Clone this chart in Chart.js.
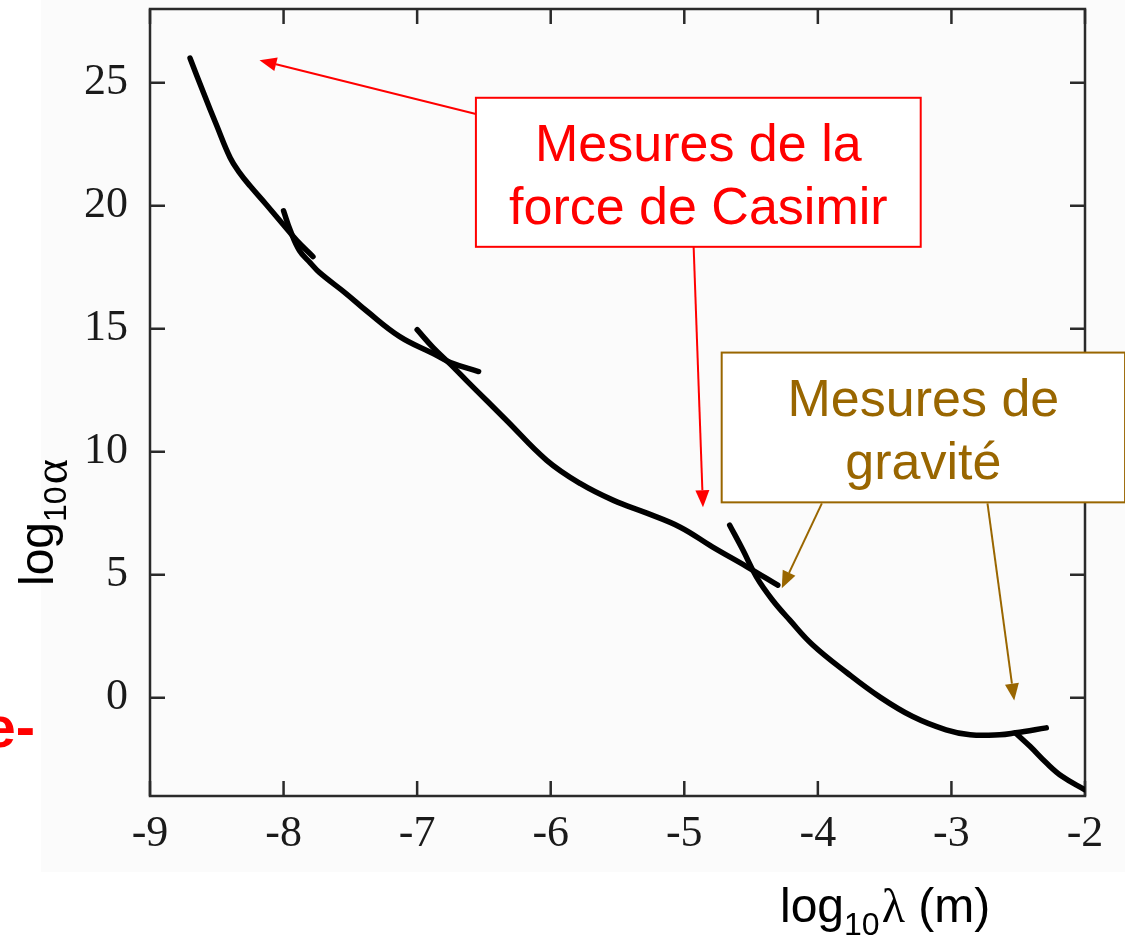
<!DOCTYPE html>
<html>
<head>
<meta charset="utf-8">
<script src="https://cdn.jsdelivr.net/npm/chart.js@4.4.1/dist/chart.umd.min.js"></script>
<style>
  html, body { margin: 0; padding: 0; background: #fff; }
  #wrap { width: 1125px; height: 935px; }
</style>
</head>
<body>
<div id="wrap"><canvas id="chart" width="1125" height="935"></canvas></div>
<script>
// Exclusion curves: log10(lambda) vs log10(alpha)

var xTicks = [-9, -8, -7, -6, -5, -4, -3, -2];
var yTicks = [0, 5, 10, 15, 20, 25];

// curve pieces
var seg1X = [-8.70, -8.60, -8.50, -8.40, -8.33, -8.25, -8.13, -8.00, -7.90, -7.78];
var seg1Y = [26.0, 24.6, 23.25, 21.95, 21.35, 20.8, 20.05, 19.22, 18.58, 17.93];

var seg2X = [-8.00, -7.95, -7.88, -7.80, -7.73, -7.53, -7.38, -7.13, -6.88, -6.75, -6.54];
var seg2Y = [19.79, 19.0, 18.17, 17.68, 17.28, 16.42, 15.73, 14.68, 13.99, 13.62, 13.26];

var seg3X = [-7.00, -6.88, -6.75, -6.63, -6.48, -6.33, -6.03, -5.78, -5.53, -5.28, -5.03, -4.79, -4.53, -4.30];
var seg3Y = [14.96, 14.23, 13.55, 12.89, 12.08, 11.27, 9.65, 8.71, 8.02, 7.50, 6.93, 6.13, 5.32, 4.57];

var seg4X = [-4.66, -4.56, -4.46, -4.34, -4.21, -4.04, -3.78, -3.54, -3.29, -3.04, -2.86, -2.64, -2.52, -2.29];
var seg4Y = [7.01, 5.99, 4.91, 3.97, 3.15, 2.15, 1.00, 0.04, -0.77, -1.31, -1.51, -1.51, -1.43, -1.23];

var seg5X = [-2.52, -2.41, -2.29, -2.17, -2.00];
var seg5Y = [-1.44, -1.99, -2.65, -3.21, -3.75];

var casimirLines = ["Mesures de la", "force de Casimir"];
var gravityLines = ["Mesures de", "gravité"];

var segX = [seg1X, seg2X, seg3X, seg4X, seg5X];
var segY = [seg1Y, seg2Y, seg3Y, seg4Y, seg5Y];

var SANS = '"Liberation Sans", Arial, sans-serif';
var SERIF = '"Liberation Serif", "Times New Roman", serif';
var RED = "#ff0000";
var BROWN = "#996600";

// callout boxes and arrows, in data units (x = log10 lambda, y = log10 alpha)
var notes = [
    {
        color: RED, lines: casimirLines,
        box: [-6.56, 24.39, -3.23, 18.33],
        arrows: [[-6.56, 23.73, -8.18, 25.92], [-4.93, 18.33, -4.86, 7.74]]
    },
    {
        color: BROWN, lines: gravityLines,
        box: [-4.72, 14.03, -1.70, 7.94],
        arrows: [[-3.97, 7.90, -4.27, 4.45], [-2.73, 7.90, -2.53, -0.12]]
    }
];

function arrow(ctx, x1, y1, x2, y2, color) {
    var a = Math.atan2(y2 - y1, x2 - x1);
    var len = 17, half = 7;
    var bx = x2 - len * Math.cos(a), by = y2 - len * Math.sin(a);
    ctx.strokeStyle = color;
    ctx.fillStyle = color;
    ctx.lineWidth = 2;
    ctx.beginPath();
    ctx.moveTo(x1, y1);
    ctx.lineTo(bx, by);
    ctx.stroke();
    ctx.beginPath();
    ctx.moveTo(x2, y2);
    ctx.lineTo(bx + half * Math.sin(a), by - half * Math.cos(a));
    ctx.lineTo(bx - half * Math.sin(a), by + half * Math.cos(a));
    ctx.closePath();
    ctx.fill();
}

// "log" + subscript "10" + greek symbol (+ optional unit)
function logTitle(ctx, x, y, sym, symLow, rest) {
    ctx.textAlign = "left";
    ctx.textBaseline = "alphabetic";
    ctx.fillStyle = "#000";
    ctx.font = "48px " + SANS;
    ctx.fillText("log", x, y);
    x += ctx.measureText("log").width;
    ctx.font = "32px " + SANS;
    ctx.fillText("10", x, y + 13);
    x += ctx.measureText("10").width + 2;
    ctx.font = "48px " + SERIF;
    ctx.fillText(sym, x, y + symLow);
    x += ctx.measureText(sym).width;
    if (rest) {
        ctx.font = "48px " + SANS;
        ctx.fillText(rest, x, y);
    }
}

var framePlugin = {
    id: "frame",
    beforeDraw: function (chart) {
        var ctx = chart.ctx;
        ctx.save();
        ctx.fillStyle = "#fbfbfb";
        ctx.fillRect(41, 0, chart.width - 41, 872);
        ctx.restore();
    },
    beforeDatasetsDraw: function (chart) {
        var ctx = chart.ctx, a = chart.chartArea;
        var xs = chart.scales.x, ys = chart.scales.y;
        var tl = 15;
        ctx.save();
        ctx.strokeStyle = "#2a2a2a";
        ctx.lineWidth = 2.5;
        ctx.strokeRect(a.left, a.top, a.right - a.left, a.bottom - a.top);
        ctx.beginPath();
        xTicks.forEach(function (v) {
            var px = xs.getPixelForValue(v);
            ctx.moveTo(px, a.bottom); ctx.lineTo(px, a.bottom - tl);
            ctx.moveTo(px, a.top); ctx.lineTo(px, a.top + tl);
        });
        yTicks.forEach(function (v) {
            var py = ys.getPixelForValue(v);
            ctx.moveTo(a.left, py); ctx.lineTo(a.left + tl, py);
            ctx.moveTo(a.right, py); ctx.lineTo(a.right - tl, py);
        });
        ctx.stroke();
        ctx.restore();
    },
    afterDraw: function (chart) {
        var ctx = chart.ctx;
        var xs = chart.scales.x, ys = chart.scales.y;
        ctx.save();

        notes.forEach(function (n) {
            var x1 = xs.getPixelForValue(n.box[0]), y1 = ys.getPixelForValue(n.box[1]);
            var x2 = xs.getPixelForValue(n.box[2]), y2 = ys.getPixelForValue(n.box[3]);
            n.arrows.forEach(function (ar) {
                arrow(ctx, xs.getPixelForValue(ar[0]), ys.getPixelForValue(ar[1]),
                    xs.getPixelForValue(ar[2]), ys.getPixelForValue(ar[3]), n.color);
            });
            ctx.fillStyle = "#fff";
            ctx.fillRect(x1, y1, x2 - x1, y2 - y1);
            ctx.strokeStyle = n.color;
            ctx.lineWidth = 2;
            ctx.strokeRect(x1, y1, x2 - x1, y2 - y1);
            ctx.fillStyle = n.color;
            ctx.font = "52px " + SANS;
            ctx.textAlign = "center";
            ctx.textBaseline = "alphabetic";
            n.lines.forEach(function (t, i) {
                ctx.fillText(t, (x1 + x2) / 2, y1 + 63 + i * 63.5);
            });
        });

        // axis titles
        logTitle(ctx, 780, 922, "\u03bb", 0, " (m)");
        ctx.save();
        ctx.translate(53, 586);
        ctx.rotate(-Math.PI / 2);
        logTitle(ctx, 0, 0, "\u03b1", 14, "");
        ctx.restore();

        // clipped fragment of a label at the left edge
        ctx.fillStyle = RED;
        ctx.font = "bold 58px " + SANS;
        ctx.textAlign = "right";
        ctx.fillText("e-", 35, 747);

        ctx.restore();
    }
};

var datasets = segX.map(function (xs, i) {
    return {
        data: xs.map(function (x, j) { return { x: x, y: segY[i][j] }; }),
        showLine: true,
        borderColor: "#000",
        borderWidth: 5.5,
        borderCapStyle: "round",
        borderJoinStyle: "round",
        pointRadius: 0,
        tension: 0.4
    };
});

var chart = new Chart("chart", {
    type: "scatter",
    data: { datasets: datasets },
    options: {
        responsive: false,
        animation: false,
        devicePixelRatio: 1,
        layout: { padding: { left: 0, right: 40, top: 9, bottom: 0 } },
        plugins: {
            legend: { display: false },
            tooltip: { enabled: false }
        },
        scales: {
            x: {
                type: "linear",
                min: -9,
                max: -2,
                afterBuildTicks: function (s) { s.ticks = xTicks.map(function (v) { return { value: v }; }); },
                afterFit: function (s) { s.height = 139; s.paddingLeft = 0; s.paddingRight = 0; },
                grid: { display: false, drawTicks: false },
                border: { display: false },
                ticks: {
                    color: "#1a1a1a",
                    padding: 12,
                    maxRotation: 0,
                    autoSkip: false,
                    font: { family: SERIF, size: 44 }
                }
            },
            y: {
                type: "linear",
                min: -4,
                max: 28,
                afterBuildTicks: function (s) { s.ticks = yTicks.map(function (v) { return { value: v }; }); },
                afterFit: function (s) { s.width = 150; s.paddingTop = 0; s.paddingBottom = 0; },
                grid: { display: false, drawTicks: false },
                border: { display: false },
                ticks: {
                    color: "#1a1a1a",
                    padding: 22,
                    font: { family: SERIF, size: 44 }
                }
            }
        }
    },
    plugins: [framePlugin]
});
</script>
</body>
</html>
